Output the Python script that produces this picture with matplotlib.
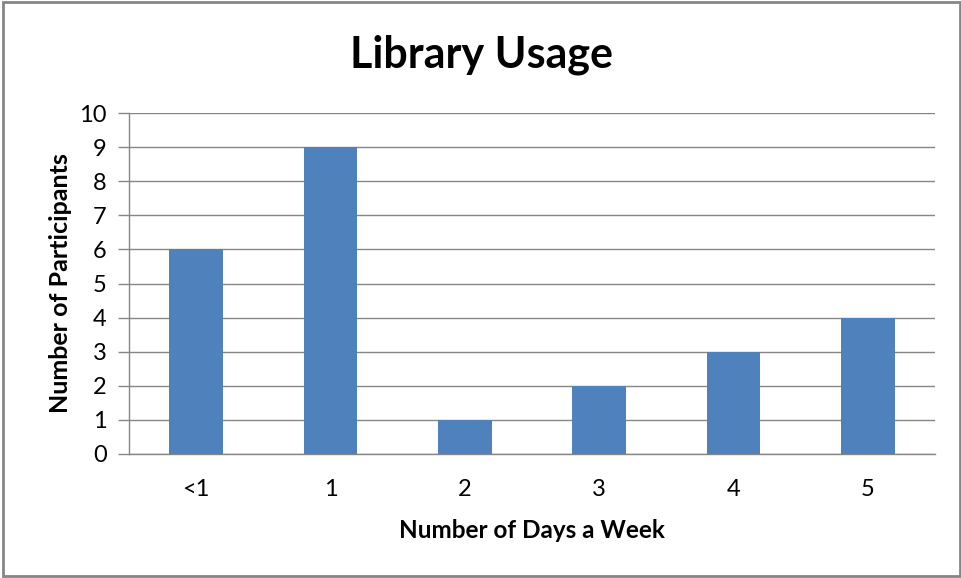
import matplotlib.pyplot as plt
from matplotlib.patches import Rectangle

# data
categories = ['<1', '1', '2', '3', '4', '5']
participants = [6, 9, 1, 2, 3, 4]
y_ticks = list(range(0, 11))

plt.rcParams['font.family'] = ['Lato', 'DejaVu Sans']

fig = plt.figure(figsize=(9.62, 5.78), dpi=100)
W, H = 962, 578
ax = fig.add_axes([129 / W, 1 - 454 / H, (935 - 129) / W, (454 - 113) / H])

x = range(len(categories))
ax.bar(x, participants, width=0.4, color='#4F81BD', zorder=3)

ax.set_xlim(-0.5, len(categories) - 0.5)
ax.set_ylim(0, 10)
ax.set_yticks(y_ticks)
ax.set_xticks(list(x))
ax.set_xticklabels(categories)
ax.yaxis.grid(True, color='#868686', linewidth=1, zorder=0)

grey = '#868686'
for side in ['top', 'right']:
    ax.spines[side].set_visible(False)
for side in ['left', 'bottom']:
    ax.spines[side].set_color(grey)
    ax.spines[side].set_linewidth(1)

ax.tick_params(axis='y', length=8, width=1, color=grey, labelsize=17, pad=8)
ax.tick_params(axis='x', length=0, labelsize=17, pad=18)

ax.set_xlabel('Number of Days a Week', fontsize=17.5, fontweight='bold', labelpad=14)
ax.set_ylabel('Number of Participants', fontsize=18, fontweight='bold', labelpad=5)
fig.text(482 / W, 1 - 55 / H, 'Library Usage', fontsize=31, fontweight='bold',
         ha='center', va='center')

# outer chart border
fig.patches.append(Rectangle((3 / W, 2 / H), (W - 5) / W, (H - 4) / H,
                             transform=fig.transFigure, fill=False,
                             edgecolor=grey, linewidth=2))

plt.savefig('out.png', dpi=100)
